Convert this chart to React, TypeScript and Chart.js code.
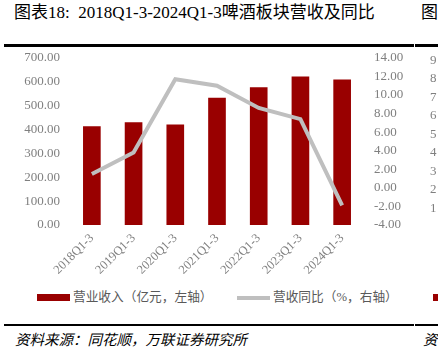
import React, { useEffect, useRef } from "react";
import { Chart, registerables } from "chart.js";

Chart.register(...registerables);

const categories = ["2018Q1-3", "2019Q1-3", "2020Q1-3", "2021Q1-3", "2022Q1-3", "2023Q1-3", "2024Q1-3"];
const revenue = [412, 429, 419, 531, 575, 620, 608];
const yoy = [1.5, 3.8, 11.7, 11.0, 8.6, 7.4, -1.9];
const neighborTicks = ["9", "8", "7", "6", "5", "4", "3", "2", "1"];

const SERIF = "'Liberation Serif', 'Times New Roman', 'Noto Sans CJK SC', serif";
const CJK = "'Liberation Serif', 'Noto Sans CJK SC', serif";
const GRAY = "#7f7f7f";

export default function App() {
  const ref = useRef<HTMLCanvasElement | null>(null);

  useEffect(() => {
    if (!ref.current) return;
    const chart = new Chart(ref.current, {
      type: "bar",
      data: {
        labels: categories,
        datasets: [
          {
            type: "line",
            label: "营收同比（%，右轴）",
            data: yoy,
            yAxisID: "y1",
            borderColor: "#bfbfbf",
            backgroundColor: "#bfbfbf",
            borderWidth: 4,
            pointRadius: 0,
            tension: 0,
            order: 0,
          } as any,
          {
            type: "bar",
            label: "营业收入（亿元，左轴）",
            data: revenue,
            yAxisID: "y",
            backgroundColor: "#990000",
            borderWidth: 0,
            barThickness: 17,
            order: 1,
          } as any,
        ],
      },
      options: {
        responsive: false,
        animation: false,
        layout: { padding: { top: 0, bottom: 0, left: 0, right: 0 } },
        plugins: { legend: { display: false }, tooltip: { enabled: false } },
        scales: {
          x: {
            grid: { display: false, drawTicks: false },
            border: { display: false },
            ticks: {
              minRotation: 45,
              maxRotation: 45,
              padding: 6,
              color: GRAY,
              font: { family: SERIF, size: 12.5 },
            },
            afterFit: (s: any) => {
              s.height = 55;
            },
          },
          y: {
            position: "left",
            min: 0,
            max: 700,
            grid: { display: false, drawTicks: false },
            border: { display: false },
            ticks: {
              stepSize: 100,
              autoSkip: false,
              padding: 11,
              color: GRAY,
              font: { family: SERIF, size: 13 },
              callback: (v: any) => Number(v).toFixed(2),
            },
            afterFit: (s: any) => {
              s.width = 71;
            },
          },
          y1: {
            position: "right",
            min: -4,
            max: 14,
            grid: { display: false, drawTicks: false },
            border: { display: false },
            ticks: {
              stepSize: 2,
              autoSkip: false,
              padding: 11,
              color: GRAY,
              font: { family: SERIF, size: 13 },
              callback: (v: any) => Number(v).toFixed(2),
            },
            afterFit: (s: any) => {
              s.width = 75;
            },
          },
        },
      },
    });
    return () => chart.destroy();
  }, []);

  const txt = (extra: any) => ({ position: "absolute", lineHeight: 1, whiteSpace: "nowrap", ...extra });

  return (
    <div style={{ position: "fixed", left: 0, top: 0, width: 438, height: 352, background: "#fff", overflow: "hidden" }}>
      <div style={txt({ left: 14, top: 4, fontFamily: CJK, fontSize: 17, color: "#000" })}>
        图表18:&nbsp;&nbsp;2018Q1-3-2024Q1-3啤酒板块营收及同比
      </div>
      <div style={txt({ left: 421, top: 4, fontFamily: CJK, fontSize: 17, color: "#000" })}>图</div>
      <div style={{ position: "absolute", left: 4, top: 44, width: 410, height: 2.5, background: "#000" }} />
      <div style={{ position: "absolute", left: 415, top: 44, width: 30, height: 2.5, background: "#000" }} />
      <canvas ref={ref} width={438} height={241} style={{ position: "absolute", left: 0, top: 39, width: 438, height: 241 }} />
      {neighborTicks.map((t, i) => (
        <div key={t} style={txt({ left: 430, top: 52.5 + i * 18.5, fontFamily: SERIF, fontSize: 13, color: GRAY })}>{t}</div>
      ))}
      <div style={{ position: "absolute", left: 37, top: 294, width: 33, height: 7, background: "#990000" }} />
      <div style={txt({ left: 73, top: 291, fontFamily: CJK, fontSize: 12.7, color: "#595959" })}>营业收入（亿元，左轴）</div>
      <div style={{ position: "absolute", left: 237, top: 296, width: 33, height: 4, background: "#bfbfbf" }} />
      <div style={txt({ left: 273, top: 291, fontFamily: CJK, fontSize: 12.7, color: "#595959" })}>营收同比（%，右轴）</div>
      <div style={{ position: "absolute", left: 433, top: 294, width: 10, height: 7, background: "#990000" }} />
      <div style={{ position: "absolute", left: 4, top: 324, width: 410, height: 2, background: "#000" }} />
      <div style={{ position: "absolute", left: 415, top: 324, width: 30, height: 2, background: "#000" }} />
      <div style={txt({ left: 15, top: 333, fontFamily: CJK, fontSize: 14.5, fontStyle: "italic", color: "#000" })}>资料来源：同花顺，万联证券研究所</div>
      <div style={txt({ left: 423, top: 333, fontFamily: CJK, fontSize: 14.5, fontStyle: "italic", color: "#000" })}>资</div>
    </div>
  );
}
